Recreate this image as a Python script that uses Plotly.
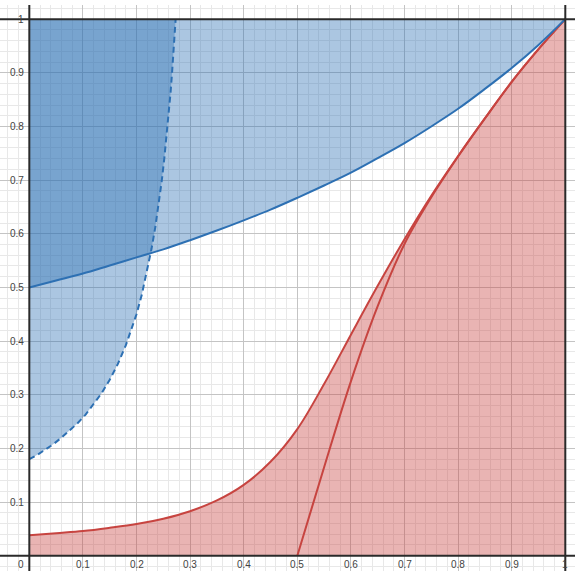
import plotly.graph_objects as go

# ---- data ----
blue_solid_x = [0, 0.05, 0.1, 0.15, 0.2, 0.25, 0.3, 0.35, 0.4, 0.45, 0.5,
                0.55, 0.6, 0.65, 0.7, 0.75, 0.8, 0.85, 0.9, 0.95, 1.0]
blue_solid_y = [0.5, 0.513, 0.526, 0.541, 0.556, 0.571, 0.588, 0.606, 0.625, 0.645, 0.667,
                0.69, 0.714, 0.741, 0.769, 0.8, 0.833, 0.87, 0.909, 0.952, 1.0]

blue_dash_x = [0, 0.015, 0.03, 0.045, 0.06, 0.075, 0.09, 0.105, 0.12, 0.135, 0.15,
               0.165, 0.18, 0.19, 0.2, 0.21, 0.22, 0.228, 0.235, 0.241, 0.247,
               0.252, 0.2565, 0.2603, 0.2635, 0.2663, 0.2688, 0.271, 0.273]
blue_dash_y = [0.18, 0.188, 0.198, 0.208, 0.22, 0.233, 0.247, 0.263, 0.282, 0.303, 0.328,
               0.357, 0.392, 0.42, 0.45, 0.487, 0.533, 0.572, 0.612, 0.652, 0.698,
               0.742, 0.785, 0.825, 0.863, 0.9, 0.935, 0.968, 1.0]

red_sig_x = [0, 0.05, 0.1, 0.15, 0.2, 0.25, 0.3, 0.35, 0.4, 0.45, 0.5, 0.55, 0.6, 0.65, 0.7,
             0.75, 0.8, 0.85, 0.9, 0.95, 1.0]
red_sig_y = [0.038, 0.042, 0.046, 0.052, 0.059, 0.069, 0.083, 0.103, 0.132, 0.175, 0.236,
             0.32, 0.412, 0.503, 0.59, 0.671, 0.745, 0.815, 0.883, 0.944, 1.0]

red_b_x = [0.5, 0.55, 0.6, 0.65, 0.7, 0.75, 0.8, 0.85, 0.9, 0.95, 1.0]
red_b_y = [0, 0.165, 0.325, 0.465, 0.581, 0.668, 0.744, 0.815, 0.883, 0.944, 1.0]

tick_vals = [0.1, 0.2, 0.3, 0.4, 0.5, 0.6, 0.7, 0.8, 0.9, 1]
tick_text = ["0.1", "0.2", "0.3", "0.4", "0.5", "0.6", "0.7", "0.8", "0.9", "1"]
bound_lines = [0, 1]

BLUE = "#2d70b3"
RED = "#c74440"
BLUE_FILL = "rgba(45,112,179,0.4)"
RED_FILL = "rgba(199,68,64,0.4)"

fig = go.Figure()

# red region below the sigmoid
fig.add_trace(go.Scatter(x=red_sig_x, y=red_sig_y, mode="lines", fill="tozeroy",
                         fillcolor=RED_FILL, line=dict(color=RED, width=2, shape="spline"),
                         hoverinfo="skip"))
fig.add_trace(go.Scatter(x=red_b_x, y=red_b_y, mode="lines",
                         line=dict(color=RED, width=2, shape="spline"), hoverinfo="skip"))

# blue region above the solid curve
fig.add_trace(go.Scatter(x=blue_solid_x + [0], y=blue_solid_y + [1], mode="lines",
                         fill="toself", fillcolor=BLUE_FILL, line=dict(width=0),
                         hoverinfo="skip"))
# blue region left of the dashed curve
fig.add_trace(go.Scatter(x=blue_dash_x + [0], y=blue_dash_y + [1], mode="lines",
                         fill="toself", fillcolor=BLUE_FILL, line=dict(width=0),
                         hoverinfo="skip"))
fig.add_trace(go.Scatter(x=blue_solid_x, y=blue_solid_y, mode="lines",
                         line=dict(color=BLUE, width=2, shape="spline"), hoverinfo="skip"))
fig.add_trace(go.Scatter(x=blue_dash_x, y=blue_dash_y, mode="lines",
                         line=dict(color=BLUE, width=2, dash="6px,4px"),
                         hoverinfo="skip"))

# axis / boundary lines
for v in bound_lines:
    fig.add_shape(type="line", xref="x", yref="paper", x0=v, x1=v, y0=0, y1=1,
                  line=dict(color="#2a2a2a", width=2), layer="above")
    fig.add_shape(type="line", xref="paper", yref="y", x0=0, x1=1, y0=v, y1=v,
                  line=dict(color="#2a2a2a", width=2), layer="above")

font = dict(family="Liberation Sans, Arial, sans-serif", size=10, color="#444")
for v, t in zip(tick_vals, tick_text):
    fig.add_annotation(x=v, y=0, xref="x", yref="y", text=t, showarrow=False,
                       yanchor="top", xanchor="center", yshift=-1, font=font)
    fig.add_annotation(x=0, y=v, xref="x", yref="y", text=t, showarrow=False,
                       xanchor="right", yanchor="middle", xshift=-3, font=font)
fig.add_annotation(x=0, y=0, xref="x", yref="y", text="0", showarrow=False,
                   xanchor="right", yanchor="top", xshift=-3, yshift=-1, font=font)

fig.update_xaxes(range=[-0.0547, 1.0181], tick0=0, dtick=0.1, showgrid=True,
                 gridcolor="#c4c4c4", gridwidth=1, zeroline=False, showticklabels=False,
                 ticks="", minor=dict(dtick=0.02, showgrid=True, gridcolor="#e8e8e8", gridwidth=1),
                 fixedrange=True)
fig.update_yaxes(range=[-0.0285, 1.0264], tick0=0, dtick=0.1, showgrid=True,
                 gridcolor="#c4c4c4", gridwidth=1, zeroline=False, showticklabels=False,
                 ticks="", minor=dict(dtick=0.02, showgrid=True, gridcolor="#e8e8e8", gridwidth=1),
                 fixedrange=True)

fig.update_layout(width=575, height=571, margin=dict(l=0, r=0, t=5, b=0),
                  paper_bgcolor="white", plot_bgcolor="white", showlegend=False)

fig.write_html("out.html", config=dict(displayModeBar=False),
               post_script="document.body.style.margin='0';document.body.style.overflow='hidden';")
